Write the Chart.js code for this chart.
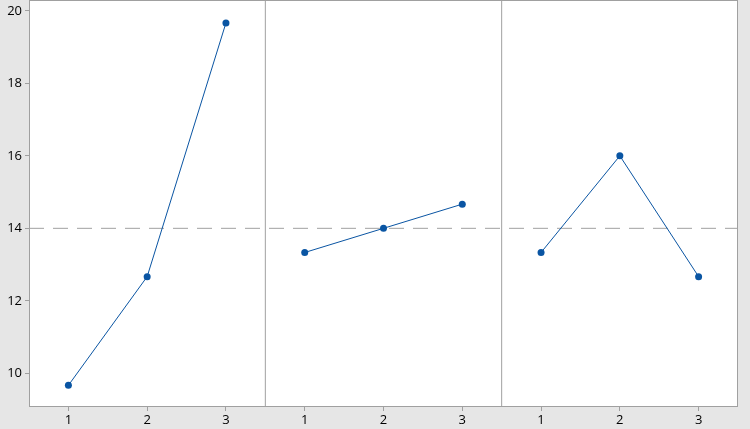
<!DOCTYPE html>
<html><head><meta charset="utf-8">
<script src="https://cdn.jsdelivr.net/npm/chart.js@4"></script>
<style>html,body{margin:0;padding:0;background:#e6e6e6;}#wrap{width:750px;height:429px;}</style>
</head><body><div id="wrap"><canvas id="c" width="750" height="429"></canvas></div>
<script>
const levels = ['1', '2', '3'];
const panelA = [9.667, 12.667, 19.667];
const panelB = [13.333, 14.0, 14.667];
const panelC = [13.333, 16.0, 12.667];
const grandMean = 14;
const yTicks = [10, 12, 14, 16, 18, 20];
const yMin = 9.07, yMax = 20.3;

const panels = [panelA, panelB, panelC];
const nLev = levels.length;
const blue = '#0a55a3';
const gray = '#a0a0a0';

const datasets = [];
datasets.push({data: [{x: 0.5, y: grandMean}, {x: panels.length * nLev + 0.5, y: grandMean}],
  borderColor: gray, borderWidth: 1, borderDash: [15, 9], pointRadius: 0, order: 3});
for (let p = 1; p < panels.length; p++) {
  datasets.push({data: [{x: p * nLev + 0.5, y: yMin}, {x: p * nLev + 0.5, y: yMax}],
    borderColor: gray, borderWidth: 1, pointRadius: 0, order: 2});
}
panels.forEach((vals, p) => {
  datasets.push({data: vals.map((v, i) => ({x: p * nLev + i + 1, y: v})),
    borderColor: blue, borderWidth: 1, pointRadius: 3.5, pointBackgroundColor: blue,
    pointBorderColor: blue, pointBorderWidth: 0, order: 1});
});

const frame = {
  id: 'frame',
  beforeDraw(chart) {
    const {ctx, chartArea: a} = chart;
    ctx.save(); ctx.fillStyle = '#ffffff';
    ctx.fillRect(a.left, a.top, a.right - a.left, a.bottom - a.top); ctx.restore();
  },
  afterDraw(chart) {
    const {ctx, chartArea: a} = chart;
    ctx.save(); ctx.strokeStyle = gray; ctx.lineWidth = 1;
    ctx.strokeRect(Math.round(a.left) + 0.5, Math.round(a.top) + 0.5,
      Math.round(a.right - a.left) - 1, Math.round(a.bottom - a.top) - 1);
    ctx.restore();
  }
};

new Chart(document.getElementById('c'), {
  type: 'line',
  data: {datasets},
  plugins: [frame],
  options: {
    responsive: false, animation: false,
    layout: {autoPadding: false, padding: {top: 0, right: 12, left: 0, bottom: 0}},
    plugins: {legend: {display: false}, tooltip: {enabled: false}},
    scales: {
      x: {type: 'linear', min: 0.5, max: panels.length * nLev + 0.5,
        afterBuildTicks(s) { const t = []; for (let i = 1; i <= panels.length * nLev; i++) t.push({value: i}); s.ticks = t; },
        afterFit(s) { s.height = 22; s.paddingLeft = 0; s.paddingRight = 0; },
        grid: {display: true, drawOnChartArea: false, drawTicks: true, tickLength: 4, color: gray},
        border: {display: false},
        ticks: {color: '#000', font: {family: 'Open Sans', size: 13}, padding: 1, maxRotation: 0, autoSkip: false,
          callback: v => levels[(Math.round(v) - 1) % nLev]}
      },
      y: {min: yMin, max: yMax,
        afterBuildTicks(s) { s.ticks = yTicks.map(v => ({value: v})); },
        afterFit(s) { s.width = 29; s.paddingTop = 0; s.paddingBottom = 0; },
        grid: {display: true, drawOnChartArea: false, drawTicks: true, tickLength: 4, color: gray},
        border: {display: false},
        ticks: {color: '#000', font: {family: 'Open Sans', size: 13}, padding: 3}
      }
    }
  }
});
</script></body></html>
